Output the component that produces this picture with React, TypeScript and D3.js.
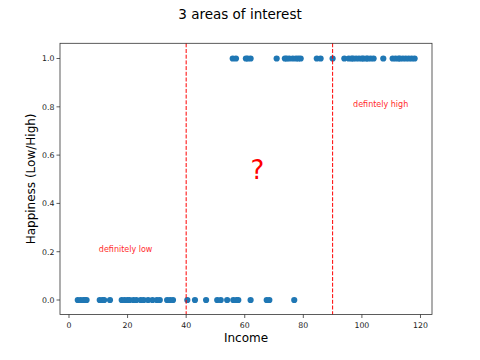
import React from "react";
import * as d3 from "d3";

const lowIncome = [3, 4, 5, 5.5, 6, 10.5, 11.5, 12, 14, 18, 19, 20, 20.7, 22, 23, 24.5, 25.5, 27, 28.5, 30, 31, 33.5, 34.5, 35.5, 40.4, 43.0, 46.8, 50.6, 51.8, 54.0, 56.1, 57.2, 57.8, 62.0, 67.5, 68.4, 76.9];
const highIncome = [55.9, 57.0, 60.4, 61, 62.0, 70.9, 73.7, 74.3, 75.2, 76.4, 77.5, 78.3, 79.1, 84.6, 85.9, 90.0, 94, 95.5, 96.5, 97, 98, 99, 100, 100.5, 101.5, 102, 103, 104, 107.3, 110.5, 111.5, 112.5, 113, 114, 115, 116, 117, 118];
const xTicks = [0, 20, 40, 60, 80, 100, 120];
const yTicks = [0.0, 0.2, 0.4, 0.6, 0.8, 1.0];
const thresholds = [40, 90];

const W = 480, H = 360;
const L = 60, R = 432, T = 43.3, B = 314.5;
const FONT = "DejaVu Sans, sans-serif";

export default function App() {
  const x = d3.scaleLinear().domain([-3.07, 123.93]).range([L, R]);
  const y = d3.scaleLinear().domain([-0.06, 1.063]).range([B, T]);
  const points = [
    ...lowIncome.map((v) => ({ x: v, y: 0 })),
    ...highIncome.map((v) => ({ x: v, y: 1 })),
  ];
  const axisColor = "#333";
  return (
    <svg width={W} height={H} style={{ position: "absolute", left: 0, top: 0, background: "#fff" }} fontFamily={FONT}>
      <rect x={0} y={0} width={W} height={H} fill="#fff" />
      <text x={240} y={18.5} textAnchor="middle" fontSize={13.5} fill="#000">3 areas of interest</text>
      {points.map((p, i) => (
        <circle key={i} cx={x(p.x)} cy={y(p.y)} r={3.1} fill="#1f77b4" />
      ))}
      {thresholds.map((t) => (
        <line key={t} x1={x(t)} x2={x(t)} y1={T} y2={B} stroke="red" strokeWidth={1} strokeDasharray="4,1.7" />
      ))}
      <text x={x(10.2)} y={y(0.2)} fontSize={8} fill="red" opacity={0.85}>definitely low</text>
      <text x={x(97)} y={y(0.8)} fontSize={8} fill="red" opacity={0.85}>defintely high</text>
      <text x={x(62)} y={y(0.5)} fontSize={26} fill="red">?</text>
      <rect x={L} y={T} width={R - L} height={B - T} fill="none" stroke={axisColor} strokeWidth={0.8} />
      {xTicks.map((t) => (
        <g key={t}>
          <line x1={x(t)} x2={x(t)} y1={B} y2={B + 3.5} stroke={axisColor} strokeWidth={0.8} />
          <text x={x(t)} y={B + 13.5} textAnchor="middle" fontSize={7.8} fill="#222">{t}</text>
        </g>
      ))}
      {yTicks.map((t) => (
        <g key={t}>
          <line x1={L - 3.5} x2={L} y1={y(t)} y2={y(t)} stroke={axisColor} strokeWidth={0.8} />
          <text x={L - 5.5} y={y(t) + 2.8} textAnchor="end" fontSize={7.8} fill="#222">{t.toFixed(1)}</text>
        </g>
      ))}
      <text x={(L + R) / 2} y={342} textAnchor="middle" fontSize={12} fill="#000">Income</text>
      <text transform={`translate(35,${(T + B) / 2}) rotate(-90)`} textAnchor="middle" fontSize={12} fill="#000">Happiness (Low/High)</text>
    </svg>
  );
}
